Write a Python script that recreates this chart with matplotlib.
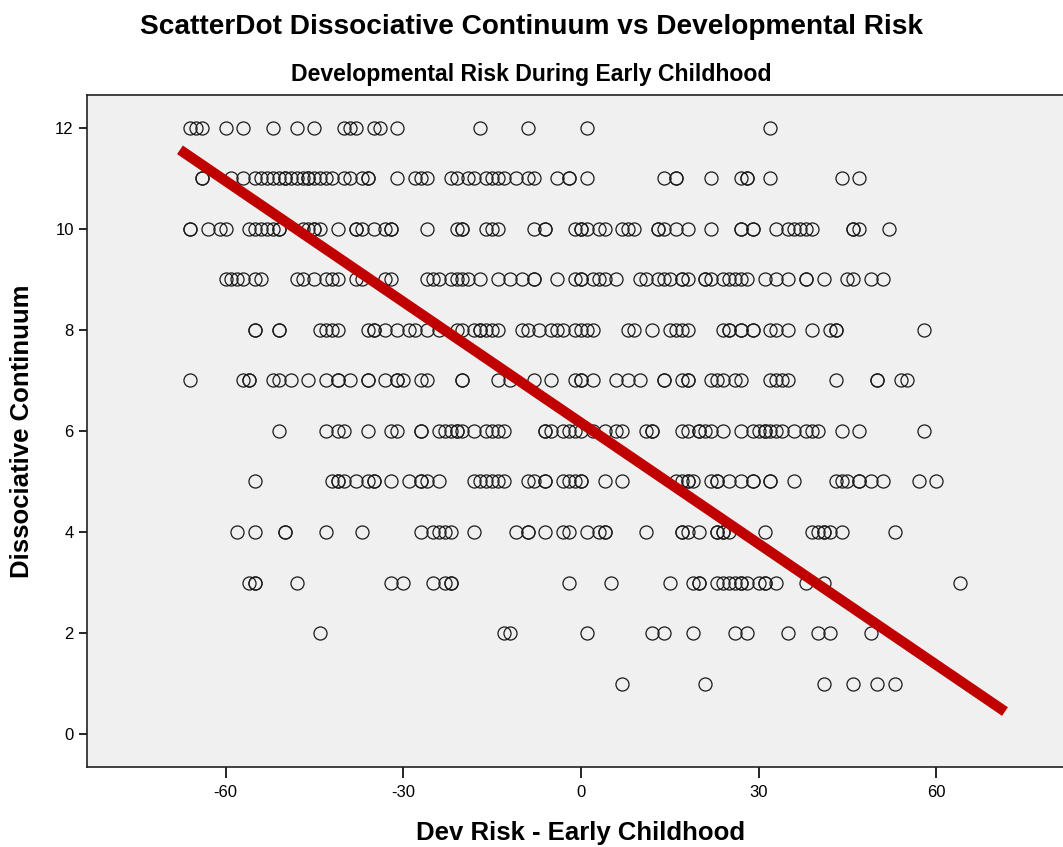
import matplotlib
matplotlib.use("Agg")
import matplotlib.pyplot as plt
import numpy as np

plt.rcParams["font.family"] = ["Liberation Sans", "DejaVu Sans"]
plt.rcParams["axes.unicode_minus"] = False

# Dev Risk (x) values for each Dissociative Continuum level (y)
row12 = [-66, -65, -64, -60, -57, -52, -48, -45, -40, -39, -38, -35, -34, -31, -17, -9, 1, 32]
row11 = [-64, -64, -59, -57, -55, -54, -53, -52, -51, -50, -50, -49, -48, -47, -46, -46, -45, -44, -43, -42,
         -40, -39, -37, -36, -36, -31, -28, -27, -26, -22, -21, -19, -18, -16, -15, -14, -13, -11, -9, -8,
         -4, -2, -2, 1, 14, 16, 16, 22, 27, 28, 28, 32, 44, 47]
row10 = [-66, -66, -63, -61, -60, -56, -55, -54, -53, -52, -51, -51, -47, -46, -45, -45, -44, -41, -38, -38,
         -37, -35, -33, -32, -32, -26, -21, -20, -20, -16, -15, -14, -8, -6, -6, -1, 0, 0, 1, 3, 4, 7, 8, 9,
         13, 13, 14, 16, 18, 22, 27, 27, 29, 29, 33, 35, 36, 37, 38, 39, 46, 46, 47, 52]
row9 = [-60, -59, -58, -57, -55, -54, -48, -47, -45, -43, -42, -41, -38, -37, -33, -32, -26, -25, -24, -22,
        -21, -20, -19, -17, -14, -12, -10, -8, -8, -4, -1, 0, 0, 2, 3, 4, 6, 10, 11, 13, 14, 15, 17, 17, 18,
        21, 21, 22, 24, 25, 26, 27, 28, 31, 33, 35, 38, 38, 41, 45, 46, 49, 51]
row8 = [-55, -55, -51, -51, -44, -43, -42, -41, -36, -35, -35, -33, -31, -29, -28, -26, -24, -21, -20, -18,
        -17, -17, -16, -15, -14, -10, -9, -7, -5, -4, -3, -1, 0, 1, 2, 8, 9, 12, 15, 16, 17, 18, 24, 25, 25,
        27, 27, 29, 29, 32, 33, 35, 39, 42, 43, 43, 58]
row7 = [-66, -57, -56, -56, -52, -51, -49, -46, -43, -41, -41, -39, -36, -36, -33, -31, -31, -30, -27, -26,
        -20, -20, -14, -12, -8, -5, -1, 0, 0, 2, 6, 8, 10, 14, 14, 17, 18, 18, 22, 23, 24, 26, 27, 32, 33,
        34, 35, 43, 50, 50, 54, 55]
row6 = [-51, -43, -41, -40, -36, -32, -31, -27, -27, -24, -23, -22, -21, -21, -20, -18, -16, -15, -14, -13,
        -6, -6, -5, -3, -2, -1, 0, 2, 4, 6, 7, 11, 12, 12, 17, 18, 20, 20, 21, 22, 24, 27, 29, 30, 31, 31,
        32, 33, 34, 36, 38, 39, 40, 44, 47, 58]
row5 = [-55, -42, -41, -41, -40, -38, -36, -35, -35, -32, -29, -27, -27, -26, -24, -18, -17, -16, -15, -14,
        -13, -9, -8, -6, -6, -3, -2, -1, 0, 0, 4, 7, 16, 17, 18, 18, 19, 22, 23, 23, 25, 27, 29, 29, 32, 32,
        36, 43, 44, 45, 47, 47, 49, 51, 57, 60]
row4 = [-58, -55, -50, -50, -43, -37, -27, -25, -24, -23, -22, -18, -11, -9, -9, -6, -3, -2, 1, 3, 4, 4, 11,
        17, 17, 18, 20, 23, 23, 24, 24, 25, 31, 39, 40, 41, 41, 42, 44, 53]
row3 = [-56, -55, -55, -48, -32, -30, -25, -23, -22, -22, -2, 5, 15, 19, 20, 20, 23, 24, 25, 26, 27, 27, 28,
        30, 31, 31, 33, 38, 41, 64]
row2 = [-44, -13, -12, 1, 12, 14, 19, 26, 28, 35, 40, 42, 49]
row1 = [7, 21, 41, 46, 50, 53]

rows = {12: row12, 11: row11, 10: row10, 9: row9, 8: row8, 7: row7,
        6: row6, 5: row5, 4: row4, 3: row3, 2: row2, 1: row1}

# fit line (as drawn)
fit_x = [-67.7, 71.6]
fit_slope = -0.0798
fit_intercept = 6.16

fig = plt.figure(figsize=(10.63, 8.47), dpi=100)
ax = fig.add_axes([0.0818, 0.0945, 0.921, 0.7935])
ax.set_facecolor("#F0F0F0")

for yv, xs in rows.items():
    ax.plot(xs, [yv] * len(xs), linestyle="none", marker="o", markersize=9.4,
            markerfacecolor="none", markeredgecolor="#1a1a1a", markeredgewidth=0.9, zorder=2)

fx = np.array(fit_x)
ax.plot(fx, fit_intercept + fit_slope * fx, color="#C00000", linewidth=7.5,
        solid_capstyle="butt", zorder=3)

ax.set_xlim(-83.4, 81.9)
ax.set_ylim(-0.65, 12.65)
ax.set_xticks([-60, -30, 0, 30, 60])
ax.set_yticks(range(0, 13, 2))
ax.tick_params(axis="x", direction="out", length=8, width=1.2, labelsize=12, pad=5)
ax.tick_params(axis="y", direction="out", length=5.5, width=1.2, labelsize=12, pad=4)
for s in ax.spines.values():
    s.set_color("#222222")
    s.set_linewidth(1.2)

fig.text(0.5466, 0.0165, "Dev Risk - Early Childhood", ha="center", va="center",
         fontsize=18.5, fontweight="bold")
fig.text(0.0207, 0.491, "Dissociative Continuum", ha="center", va="center",
         rotation=90, fontsize=18.5, fontweight="bold")
fig.text(0.5, 0.968, "ScatterDot Dissociative Continuum vs Developmental Risk",
         ha="center", va="center", fontsize=20.2, fontweight="bold")
fig.text(0.5, 0.9115, "Developmental Risk During Early Childhood",
         ha="center", va="center", fontsize=16.6, fontweight="bold")

fig.savefig("out.png", dpi=100)
